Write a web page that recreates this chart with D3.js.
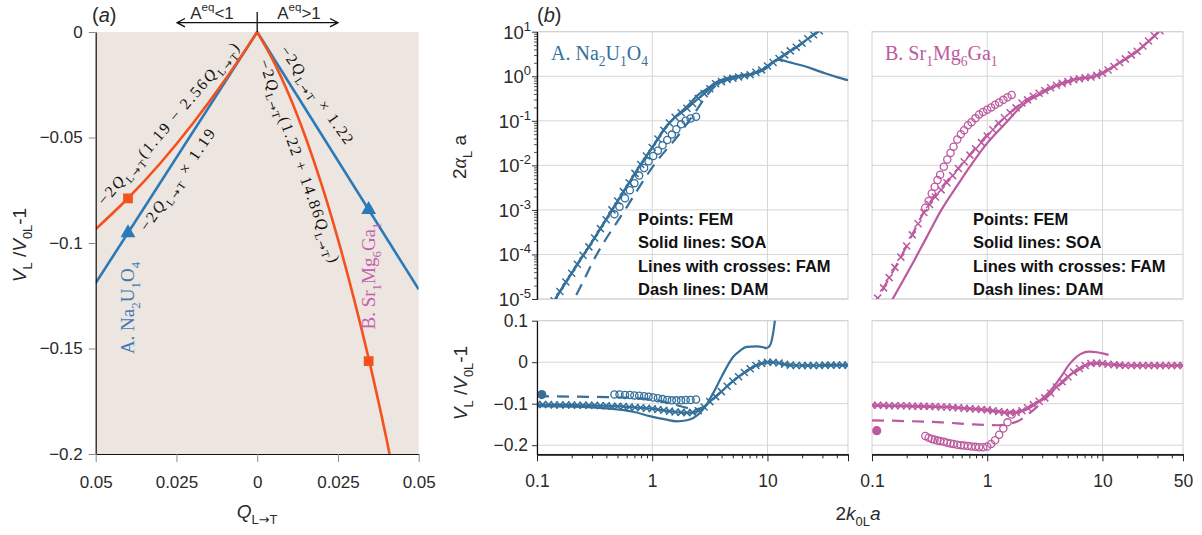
<!DOCTYPE html>
<html lang="en">
<head>
<meta charset="UTF-8">
<title>Attenuation and velocity</title>
<style>
    body { margin: 0; background: #fff; }
    text { font-family: 'Liberation Sans', Arial, sans-serif; fill: #2a2a2a; }
    .serif { font-family: 'Liberation Serif', 'DejaVu Serif', serif; }
    .legend { font-weight: bold; font-size: 16.5px; fill: #111; }
</style>
</head>
<body>
<script src="https://d3js.org/d3.v7.min.js"></script>
<script>

    // ---------- panel (a): V_L/V_0L - 1 against Q_{L->T} ----------
    const aTicksX = [-0.05, -0.025, 0, 0.025, 0.05];
    const aTicksY = [0, -0.05, -0.1, -0.15, -0.2];

    const qBlueL = [-0.05, 0];
    const vBlueL = [-0.119, 0];
    const qBlueR = [0, 0.05];
    const vBlueR = [0, -0.122];
    const qOrangeL = [-0.05, -0.04, -0.03, -0.02, -0.01, 0];
    const vOrangeL = [-0.0934, -0.0788, -0.0622, -0.0435, -0.0228, 0];
    const qOrangeR = [0, 0.005, 0.01, 0.015, 0.02, 0.025, 0.03, 0.035, 0.04, 0.0415];
    const vOrangeR = [0, -0.0137, -0.0303, -0.05, -0.0726, -0.0982, -0.1267, -0.158, -0.1927, -0.204];
    const triQ = [-0.04, 0.0345];
    const triV = [-0.0952, -0.0842];
    const sqQ = [-0.04, 0.0345];
    const sqV = [-0.0788, -0.156];

    // ---------- panel (b): 2k0L a on a log axis ----------
    // FAM (lines with crosses), shared abscissa
    const famX = [0.1, 0.112, 0.126, 0.141, 0.158, 0.178, 0.2, 0.224, 0.251, 0.282,
        0.316, 0.355, 0.398, 0.447, 0.501, 0.562, 0.631, 0.708, 0.794, 0.891,
        1, 1.12, 1.26, 1.41, 1.58, 1.78, 2, 2.24, 2.51, 2.82,
        3.16, 3.55, 3.98, 4.47, 5.01, 5.62, 6.31, 7.08, 7.94, 8.91,
        10, 11.2, 12.6, 14.1, 15.8, 17.8, 20, 22.4, 25.1, 28.2,
        31.6, 35.5, 39.8, 44.7, 50];
    // log10 of 2 alpha_L a
    const famA_logAlpha = [-5.67, -5.46, -5.25, -5.04, -4.83, -4.62, -4.42, -4.22, -4.02, -3.83,
        -3.63, -3.42, -3.22, -3.00, -2.80, -2.59, -2.39, -2.18, -1.98, -1.79,
        -1.60, -1.41, -1.21, -1.05, -0.92, -0.82, -0.72, -0.61, -0.50, -0.39,
        -0.28, -0.17, -0.12, -0.07, -0.045, -0.015, 0.01, 0.035, 0.09, 0.14,
        0.23, 0.31, 0.40, 0.48, 0.57, 0.65, 0.74, 0.84, 0.93, 1.02,
        1.11, 1.2, 1.3, 1.4, 1.5];
    const famB_logAlpha = [-5.21, -4.98, -4.75, -4.52, -4.29, -4.06, -3.81, -3.56, -3.31, -3.06,
        -2.88, -2.71, -2.55, -2.39, -2.23, -2.07, -1.92, -1.77, -1.63, -1.49,
        -1.34, -1.20, -1.06, -0.93, -0.82, -0.71, -0.60, -0.53, -0.45, -0.38,
        -0.32, -0.26, -0.20, -0.16, -0.12, -0.08, -0.055, -0.035, -0.015, 0.02,
        0.07, 0.14, 0.22, 0.31, 0.39, 0.48, 0.56, 0.68, 0.79, 0.91,
        1.02, 1.13, 1.24, 1.35, 1.46];
    const famA_v = [-0.102, -0.102, -0.102, -0.103, -0.103, -0.103, -0.103, -0.104, -0.104, -0.104,
        -0.104, -0.105, -0.105, -0.106, -0.106, -0.107, -0.108, -0.109, -0.110, -0.111,
        -0.112, -0.114, -0.116, -0.118, -0.120, -0.121, -0.122, -0.121, -0.117, -0.108,
        -0.095, -0.083, -0.071, -0.058, -0.046, -0.035, -0.025, -0.016, -0.008, -0.003,
        0.0, 0.0, -0.002, -0.005, -0.007, -0.008, -0.008, -0.008, -0.008, -0.008,
        -0.007, -0.007, -0.007, -0.007, -0.007];
    const famB_v = [-0.104, -0.104, -0.104, -0.105, -0.105, -0.105, -0.105, -0.106, -0.106, -0.106,
        -0.107, -0.107, -0.108, -0.108, -0.109, -0.110, -0.111, -0.112, -0.113, -0.114,
        -0.115, -0.117, -0.119, -0.121, -0.122, -0.121, -0.117, -0.110, -0.102, -0.094,
        -0.086, -0.075, -0.060, -0.047, -0.035, -0.024, -0.015, -0.008, -0.003, -0.002,
        -0.003, -0.005, -0.006, -0.007, -0.008, -0.008, -0.008, -0.008, -0.008, -0.008,
        -0.008, -0.008, -0.008, -0.008, -0.008];

    // SOA (solid lines)
    const soaA_xAlpha = [0.1, 0.2, 0.3, 0.43, 0.6, 0.8, 1.0, 1.3, 1.6, 2.0, 2.5, 3.0, 3.55, 4.0, 4.5, 5.0,
        5.6, 6.3, 7.1, 8, 8.9, 10, 11, 12, 13.2, 15.8, 20, 25, 32, 40, 50];
    const soaA_logAlpha = [-5.67, -4.42, -3.72, -3.07, -2.48, -1.97, -1.60, -1.15, -0.90, -0.68, -0.42, -0.28,
        -0.14, -0.08, -0.04, -0.01, 0.01, 0.03, 0.05, 0.08, 0.12, 0.2, 0.3, 0.37, 0.36, 0.31, 0.24, 0.16,
        0.06, -0.02, -0.09];
    const soaB_xAlpha = [0.1, 0.155, 0.22, 0.3, 0.4, 0.55, 0.72, 1.0, 1.51, 2.0, 2.8, 4.1, 5.8, 8.6, 13.8, 20, 30.8];
    const soaB_logAlpha = [-5.8, -4.95, -4.25, -3.6, -3.0, -2.45, -2.0, -1.5, -1.0, -0.66, -0.42, -0.2, -0.07,
        0.0, 0.29, 0.56, 1.0];
    const soaA_xV = [0.1, 0.2, 0.3, 0.5, 0.7, 0.95, 1.3, 1.63, 2.0, 2.59, 3.0, 3.38, 4.0, 5.05, 5.8, 6.6,
        8.0, 9.2, 9.8, 10.5, 11.2, 11.6, 12.0];
    const soaA_v = [-0.106, -0.107, -0.109, -0.114, -0.12, -0.13, -0.138, -0.1425, -0.14, -0.1225, -0.1,
        -0.0745, -0.035, 0.013, 0.028, 0.037, 0.038, 0.036, 0.034, 0.04, 0.07, 0.1, 0.13];
    const soaB_xV = [0.1, 0.2, 0.4, 0.7, 1.0, 1.5, 2.0, 2.5, 3.0, 3.5, 4.0, 4.5, 5.0, 5.6, 6.5, 7.6, 9.0, 10.5, 11.3];
    const soaB_v = [-0.105, -0.106, -0.108, -0.112, -0.116, -0.122, -0.118, -0.105, -0.088, -0.07, -0.05,
        -0.03, -0.01, 0.006, 0.02, 0.0255, 0.024, 0.02, 0.0175];

    // DAM (dash lines)
    const damA_xAlpha = [0.18, 0.215, 0.33, 0.58, 1.03, 1.74, 2.3, 3.0, 3.6, 4.5, 5.5, 7, 9, 11, 14, 18, 23, 28];
    const damA_logAlpha = [-5.3, -4.95, -4.0, -3.0, -2.0, -1.28, -0.85, -0.42, -0.2, -0.08, -0.02, 0.03, 0.14,
        0.3, 0.48, 0.66, 0.86, 1.03];
    const damB_xAlpha = [0.1, 0.114, 0.183, 0.29, 0.59, 1.32, 2.0, 2.8, 4.1, 5.8, 8.6, 13.8, 20, 30.8];
    const damB_logAlpha = [-5.21, -4.95, -4.0, -3.0, -2.0, -1.0, -0.6, -0.38, -0.19, -0.07, 0.0, 0.29, 0.56, 1.0];
    const damA_xV = [0.1, 0.2, 0.4, 0.7, 1.0, 1.3, 1.6, 2.0, 2.4, 2.8, 3.2, 4.0, 5.0, 6.3, 8, 10, 13, 20, 30, 50];
    const damA_v = [-0.082, -0.083, -0.084, -0.086, -0.09, -0.096, -0.103, -0.11, -0.113, -0.108, -0.095, -0.07,
        -0.046, -0.025, -0.008, 0.0, -0.004, -0.008, -0.008, -0.007];
    const damB_xV = [0.1, 0.2, 0.4, 0.77, 1.23, 1.84, 2.25, 2.6, 3.0, 3.5, 4.0, 5.0, 6.3, 8, 10, 13, 20, 30, 50];
    const damB_v = [-0.14, -0.142, -0.145, -0.15, -0.152, -0.1425, -0.126, -0.112, -0.095, -0.078, -0.062, -0.038,
        -0.018, -0.006, -0.003, -0.006, -0.008, -0.008, -0.008];

    // FEM (points)
    const femA_x = [0.47, 0.52, 0.58, 0.64, 0.7, 0.77, 0.85, 0.93, 1.02, 1.12, 1.23, 1.35, 1.48, 1.62, 1.78, 1.95, 2.15, 2.4];
    const femA_logAlpha = [-3.1, -2.93, -2.74, -2.56, -2.40, -2.23, -2.06, -1.91, -1.79, -1.67, -1.55, -1.43,
        -1.31, -1.19, -1.08, -1.0, -0.95, -0.91];
    const femA_v = [-0.078, -0.078, -0.079, -0.079, -0.08, -0.081, -0.082, -0.083, -0.085, -0.087, -0.089, -0.091,
        -0.092, -0.092, -0.092, -0.091, -0.091, -0.09];
    const femB_x = [0.29, 0.31, 0.33, 0.35, 0.37, 0.39, 0.42, 0.45, 0.48, 0.51, 0.55, 0.59, 0.63, 0.68, 0.73,
        0.79, 0.85, 0.92, 1.0, 1.08, 1.17, 1.27, 1.38, 1.5, 1.63];
    const femB_logAlpha = [-2.95, -2.80, -2.63, -2.48, -2.33, -2.21, -2.03, -1.87, -1.72, -1.58, -1.42, -1.30,
        -1.21, -1.10, -1.03, -0.94, -0.86, -0.80, -0.75, -0.70, -0.64, -0.59, -0.53, -0.47, -0.42];
    const femB_v = [-0.178, -0.182, -0.185, -0.187, -0.189, -0.19, -0.192, -0.194, -0.196, -0.197, -0.199, -0.2,
        -0.201, -0.202, -0.203, -0.204, -0.205, -0.205, -0.203, -0.197, -0.188, -0.175, -0.16, -0.145, -0.126];
    const femStatic_x = [0.11];
    const femStaticA_v = [-0.078];
    const femStaticB_v = [-0.165];

    const decades = [1, 0, -1, -2, -3, -4, -5];
    const bTicksX = [0.1, 1, 10, 50];
    const bTicksV = [0.1, 0, -0.1, -0.2];
    const legendLines = ['Points: FEM', 'Solid lines: SOA', 'Lines with crosses: FAM', 'Dash lines: DAM'];

    const blue = '#2a79b8', orange = '#f4511e';
    const colA = '#35709b', colB = '#bc5aa0';
    const arrowFont = "'DejaVu Sans', sans-serif";

    const svg = d3.select('body').append('svg')
        .attr('width', 1202).attr('height', 535).style('display', 'block');
    const defs = svg.append('defs');

    // text with sub/superscripts: parts = [text, 'sub'|'sup'|null, italic, fontFamily]
    function rich(t, parts, size) {
        let shift = 0;
        parts.forEach(function(p) {
            const mode = p[1];
            const target = mode === 'sub' ? size * 0.32 : (mode === 'sup' ? -size * 0.42 : 0);
            t.append('tspan')
                .attr('dy', target - shift)
                .style('font-size', (mode ? size * 0.68 : size) + 'px')
                .style('font-style', p[2] ? 'italic' : null)
                .style('font-family', p[3] || null)
                .text(p[0]);
            shift = target;
        });
        return t;
    }

    function styleAxis(sel, fs, tickCol) {
        sel.select('.domain').attr('stroke', '#111').attr('stroke-width', 1.2);
        sel.selectAll('.tick line').attr('stroke', tickCol);
        sel.selectAll('.tick text').style('font-size', fs + 'px').style('font-family', "'Liberation Sans', Arial, sans-serif").attr('fill', '#2a2a2a');
    }

    const fmtSigned = d => d < 0 ? '\u2212' + String(-d) : String(d);

    // ================= panel (a) =================
    const xa = d3.scaleLinear().domain([-0.05, 0.05]).range([95.7, 418.7]);
    const ya = d3.scaleLinear().domain([-0.2, 0]).range([454, 32]);

    svg.append('rect')
        .attr('x', xa(-0.05)).attr('y', ya(0))
        .attr('width', xa(0.05) - xa(-0.05)).attr('height', ya(-0.2) - ya(0))
        .attr('fill', '#ede5df');

    defs.append('clipPath').attr('id', 'clipA').append('rect')
        .attr('x', xa(-0.05)).attr('y', ya(0) - 2)
        .attr('width', xa(0.05) - xa(-0.05)).attr('height', ya(-0.2) - ya(0) + 2);

    const ga = svg.append('g').attr('clip-path', 'url(#clipA)');
    const lineA = d3.line().x(d => xa(d[0])).y(d => ya(d[1])).curve(d3.curveMonotoneX);

    [[qBlueL, vBlueL, blue], [qBlueR, vBlueR, blue], [qOrangeL, vOrangeL, orange], [qOrangeR, vOrangeR, orange]]
        .forEach(function(s) {
            ga.append('path')
                .datum(s[0].map((q, i) => [q, s[1][i]]))
                .attr('d', lineA)
                .attr('fill', 'none').attr('stroke', s[2]).attr('stroke-width', 2.6);
        });

    ga.selectAll('.tri').data(triQ).enter().append('path')
        .attr('d', d3.symbol(d3.symbolTriangle).size(95))
        .attr('transform', (d, i) => 'translate(' + xa(d) + ',' + ya(triV[i]) + ')')
        .attr('fill', blue);
    ga.selectAll('.sq').data(sqQ).enter().append('path')
        .attr('d', d3.symbol(d3.symbolSquare).size(95))
        .attr('transform', (d, i) => 'translate(' + xa(d) + ',' + ya(sqV[i]) + ')')
        .attr('fill', orange);

    const axYa = svg.append('g').attr('transform', 'translate(' + xa(-0.05) + ',0)')
        .call(d3.axisLeft(ya).tickValues(aTicksY).tickSize(7).tickSizeOuter(0).tickPadding(6).tickFormat(fmtSigned));
    styleAxis(axYa, 17, '#888');
    const axXa = svg.append('g').attr('transform', 'translate(0,' + ya(-0.2) + ')')
        .call(d3.axisBottom(xa).tickValues(aTicksX).tickSize(8).tickSizeOuter(0).tickPadding(14).tickFormat(d => String(Math.abs(d))));
    styleAxis(axXa, 17, '#888');

    // formula annotations
    const Q = ['Q', null, true];
    const LT = [['L', 'sub'], ['\u2192', 'sub', false, arrowFont], ['T', 'sub']];
    const notes = [
        {parts: [['\u22122'], Q, ...LT, ['(1.19 \u2212 2.56'], Q, ...LT, [')']], cx: 168.5, cy: 124, rot: -49.4, len: 208},
        {parts: [['\u22122'], Q, ...LT, [' \u00d7 1.19']], cx: 177.5, cy: 180, rot: -55.4, len: 120},
        {parts: [['\u22122'], Q, ...LT, ['(1.22 + 14.86'], Q, ...LT, [')']], cx: 299, cy: 161, rot: 70.5, len: 214},
        {parts: [['\u22122'], Q, ...LT, [' \u00d7 1.22']], cx: 316.5, cy: 95, rot: 55, len: 116}
    ];
    notes.forEach(function(n) {
        const t = svg.append('text').attr('class', 'serif')
            .attr('transform', 'translate(' + n.cx + ',' + n.cy + ') rotate(' + n.rot + ')')
            .attr('y', 5).attr('text-anchor', 'middle')
            .attr('textLength', n.len).attr('lengthAdjust', 'spacing')
            .style('fill', '#111');
        rich(t, n.parts, 16);
    });

    rich(svg.append('text').attr('class', 'serif')
        .attr('transform', 'translate(127,308) rotate(-90)')
        .attr('y', 6.5).attr('text-anchor', 'middle').style('fill', '#3d7cb3'),
        [['A. Na'], ['2', 'sub'], ['U'], ['1', 'sub'], ['O'], ['4', 'sub']], 19);
    rich(svg.append('text').attr('class', 'serif')
        .attr('transform', 'translate(368,276) rotate(-90)')
        .attr('y', 6.5).attr('text-anchor', 'middle').style('fill', '#c462ae'),
        [['B. Sr'], ['1', 'sub'], ['Mg'], ['6', 'sub'], ['Ga'], ['1', 'sub']], 19);

    // top arrows
    svg.append('path')
        .attr('d', 'M177,22.7H338 M185,18.5L177,22.7L185,26.9 M330,18.5L338,22.7L330,26.9 M' + xa(0) + ',12V' + ya(0))
        .attr('fill', 'none').attr('stroke', '#111').attr('stroke-width', 1.3);
    rich(svg.append('text').attr('x', 212).attr('y', 18.5).attr('text-anchor', 'middle'),
        [['A'], ['eq', 'sup'], ['<1']], 17);
    rich(svg.append('text').attr('x', 299).attr('y', 18.5).attr('text-anchor', 'middle'),
        [['A'], ['eq', 'sup'], ['>1']], 17);

    rich(svg.append('text').attr('x', 92).attr('y', 22),
        [['('], ['a', null, true], [')']], 20);

    rich(svg.append('text').attr('transform', 'translate(26,245) rotate(-90)').attr('text-anchor', 'middle'),
        [['V', null, true], ['L', 'sub'], [' /'], ['V', null, true], ['0L', 'sub'], ['-1']], 19);
    rich(svg.append('text').attr('x', 257).attr('y', 518).attr('text-anchor', 'middle'),
        [['Q', null, true], ...LT], 19);

    // ================= panel (b) =================
    const xbL = d3.scaleLog().domain([0.1, 50]).range([537, 848]);
    const xbR = d3.scaleLog().domain([0.1, 50]).range([872, 1183]);
    const yTop = d3.scaleLog().domain([1e-5, 10]).range([299, 31.7]);
    const yBot = d3.scaleLinear().domain([-0.222, 0.1]).range([454.3, 320.7]);
    const minorX = [0.2, 0.3, 0.4, 0.5, 0.6, 0.7, 0.8, 0.9, 2, 3, 4, 5, 6, 7, 8, 9, 20, 30, 40];
    const minorY = [];
    decades.slice(1).forEach(e => { for (let m = 2; m <= 9; m++) minorY.push(m * Math.pow(10, e)); });

    const crossPath = 'M-3.5,-3.5L3.5,3.5M-3.5,3.5L3.5,-3.5';

    function frame(id, xs, ys, gridY) {
        const x0 = xs.range()[0], x1 = xs.range()[1];
        const y0 = ys.range()[1], y1 = ys.range()[0];
        const g = svg.append('g');
        g.selectAll('.gx').data([1, 10]).enter().append('line')
            .attr('x1', d => xs(d)).attr('x2', d => xs(d)).attr('y1', y0).attr('y2', y1)
            .attr('stroke', '#d6d6d6');
        g.selectAll('.gy').data(gridY).enter().append('line')
            .attr('x1', x0).attr('x2', x1).attr('y1', d => ys(d)).attr('y2', d => ys(d))
            .attr('stroke', '#d6d6d6');
        g.append('rect').attr('x', x0).attr('y', y0).attr('width', x1 - x0).attr('height', y1 - y0)
            .attr('fill', 'none').attr('stroke', '#d0d0d0');
        defs.append('clipPath').attr('id', id).append('rect')
            .attr('x', x0).attr('y', y0).attr('width', x1 - x0).attr('height', y1 - y0);
        return svg.append('g').attr('clip-path', 'url(#' + id + ')');
    }

    function series(g, xs, ys, xv, yv, o) {
        const pts = xv.map((x, i) => [xs(x), ys(o.log ? Math.pow(10, yv[i]) : yv[i])]);
        if (o.line) {
            g.append('path')
                .attr('d', d3.line().curve(d3.curveMonotoneX)(pts))
                .attr('fill', 'none').attr('stroke', o.color).attr('stroke-width', 2.2)
                .attr('stroke-dasharray', o.dash || null);
        }
        if (o.mark === 'x') {
            g.selectAll(null).data(pts).enter().append('path')
                .attr('d', crossPath).attr('transform', d => 'translate(' + d + ')')
                .attr('fill', 'none').attr('stroke', o.color).attr('stroke-width', 1.5);
        } else if (o.mark === 'o') {
            g.selectAll(null).data(pts).enter().append('circle')
                .attr('cx', d => d[0]).attr('cy', d => d[1]).attr('r', 3.6)
                .attr('fill', 'none').attr('stroke', o.color).attr('stroke-width', 1.3);
        } else if (o.mark === 'dot') {
            g.selectAll(null).data(pts).enter().append('circle')
                .attr('cx', d => d[0]).attr('cy', d => d[1]).attr('r', 4.6)
                .attr('fill', o.color);
        }
    }

    const gridTop = decades.map(e => Math.pow(10, e));
    const panels = [
        {xs: xbL, col: colA, famAlpha: famA_logAlpha, famV: famA_v,
            soaXa: soaA_xAlpha, soaA: soaA_logAlpha, soaXv: soaA_xV, soaV: soaA_v,
            damXa: damA_xAlpha, damA: damA_logAlpha, damXv: damA_xV, damV: damA_v,
            femX: femA_x, femA: femA_logAlpha, femV: femA_v, stat: femStaticA_v},
        {xs: xbR, col: colB, famAlpha: famB_logAlpha, famV: famB_v,
            soaXa: soaB_xAlpha, soaA: soaB_logAlpha, soaXv: soaB_xV, soaV: soaB_v,
            damXa: damB_xAlpha, damA: damB_logAlpha, damXv: damB_xV, damV: damB_v,
            femX: femB_x, femA: femB_logAlpha, femV: femB_v, stat: femStaticB_v}
    ];

    panels.forEach(function(p, k) {
        const gt = frame('clipT' + k, p.xs, yTop, gridTop);
        series(gt, p.xs, yTop, p.damXa, p.damA, {log: true, line: true, color: p.col, dash: '12,8'});
        series(gt, p.xs, yTop, p.soaXa, p.soaA, {log: true, line: true, color: p.col});
        series(gt, p.xs, yTop, famX, p.famAlpha, {log: true, line: k === 0, color: p.col, mark: 'x'});
        series(gt, p.xs, yTop, p.femX, p.femA, {log: true, color: p.col, mark: 'o'});

        const gb = frame('clipB' + k, p.xs, yBot, bTicksV);
        series(gb, p.xs, yBot, p.damXv, p.damV, {line: true, color: p.col, dash: '12,8'});
        series(gb, p.xs, yBot, p.soaXv, p.soaV, {line: true, color: p.col});
        series(gb, p.xs, yBot, famX, p.famV, {line: true, color: p.col, mark: 'x'});
        series(gb, p.xs, yBot, p.femX, p.femV, {color: p.col, mark: 'o'});
        series(gb, p.xs, yBot, femStatic_x, p.stat, {color: p.col, mark: 'dot'});

        // bottom x axis
        const ax = svg.append('g').attr('transform', 'translate(0,' + yBot(-0.222) + ')')
            .call(d3.axisBottom(p.xs).tickValues(bTicksX).tickSize(7).tickSizeOuter(0).tickPadding(13)
                .tickFormat(d => (k === 0 && d === 50) ? '' : String(d)));
        styleAxis(ax, 17.5, '#222');
        const axm = svg.append('g').attr('transform', 'translate(0,' + yBot(-0.222) + ')')
            .call(d3.axisBottom(p.xs).tickValues(minorX).tickSize(4).tickSizeOuter(0).tickFormat(''));
        styleAxis(axm, 17.5, '#222');

        // legend
        legendLines.forEach(function(s, i) {
            svg.append('text').attr('class', 'legend')
                .attr('x', k === 0 ? 638 : 973).attr('y', 225 + i * 23.4).text(s);
        });
    });

    // left axes of panel (b)
    const ayt = svg.append('g').attr('transform', 'translate(' + xbL(0.1) + ',0)')
        .call(d3.axisLeft(yTop).tickValues(gridTop).tickSize(5).tickSizeOuter(0).tickFormat(''));
    styleAxis(ayt, 17, '#333');
    const aytm = svg.append('g').attr('transform', 'translate(' + xbL(0.1) + ',0)')
        .call(d3.axisLeft(yTop).tickValues(minorY).tickSize(3).tickSizeOuter(0).tickFormat(''));
    styleAxis(aytm, 17, '#555');
    decades.forEach(function(e) {
        const t = svg.append('text').attr('x', 531).attr('y', yTop(Math.pow(10, e)) + 7)
            .attr('text-anchor', 'end').style('font-size', '18.5px');
        t.append('tspan').text('10');
        t.append('tspan').attr('dy', -8).style('font-size', '13px').text(e < 0 ? '-' + (-e) : String(e));
    });
    const ayb = svg.append('g').attr('transform', 'translate(' + xbL(0.1) + ',0)')
        .call(d3.axisLeft(yBot).tickValues(bTicksV).tickSize(5).tickSizeOuter(0).tickPadding(4).tickFormat(fmtSigned));
    styleAxis(ayb, 17.5, '#333');

    // titles and labels for (b)
    rich(svg.append('text').attr('class', 'serif').attr('x', 551).attr('y', 60).style('fill', colA),
        [['A. Na'], ['2', 'sub'], ['U'], ['1', 'sub'], ['O'], ['4', 'sub']], 20);
    rich(svg.append('text').attr('class', 'serif').attr('x', 885).attr('y', 60).style('fill', colB),
        [['B. Sr'], ['1', 'sub'], ['Mg'], ['6', 'sub'], ['Ga'], ['1', 'sub']], 20);
    rich(svg.append('text').attr('x', 537).attr('y', 22),
        [['('], ['b', null, true], [')']], 20);

    const ylab1 = svg.append('text').attr('transform', 'translate(466,157) rotate(-90)').attr('text-anchor', 'middle');
    ylab1.append('tspan').text('2').style('font-size', '19px');
    ylab1.append('tspan').attr('class', 'serif').style('font-size', '20px').style('font-style', 'italic').text('\u03b1');
    ylab1.append('tspan').attr('dy', 6).style('font-size', '13px').text('L');
    ylab1.append('tspan').attr('dy', -6).style('font-size', '19px').text(' a');

    rich(svg.append('text').attr('transform', 'translate(467,383) rotate(-90)').attr('text-anchor', 'middle'),
        [['V', null, true], ['L', 'sub'], [' /'], ['V', null, true], ['0L', 'sub'], ['-1']], 19);
    rich(svg.append('text').attr('x', 858).attr('y', 520).attr('text-anchor', 'middle'),
        [['2'], ['k', null, true], ['0L', 'sub'], ['a', null, true]], 19);

</script>
</body>
</html>
